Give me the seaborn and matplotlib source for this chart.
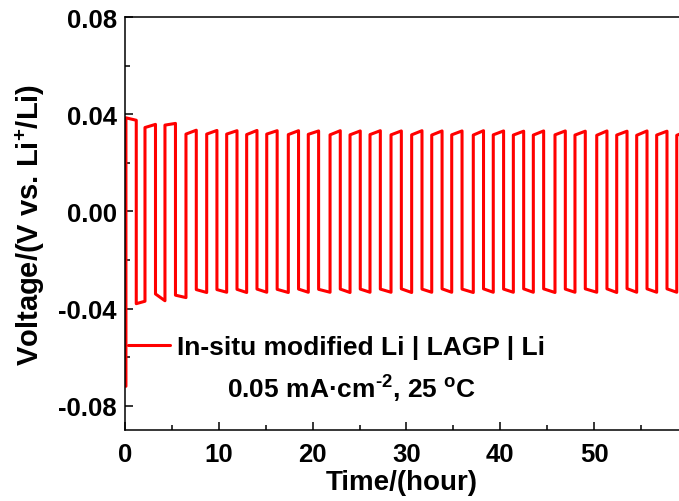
import matplotlib
matplotlib.use('Agg')
import matplotlib.pyplot as plt
import seaborn as sns
import pandas as pd

# switching times (hour)
rise_t = [0.1, 2.13, 4.26, 6.50, 8.71, 10.84, 12.97, 15.11, 17.41, 19.54,
          21.86, 23.99, 26.12, 28.36, 30.56, 32.70, 34.83, 37.13, 39.26, 41.40,
          43.53, 45.84, 47.97, 50.29, 52.42, 54.55, 56.68, 58.82]
fall_t = [1.20, 3.25, 5.38, 7.60, 9.80, 11.94, 14.07, 16.22, 18.50, 20.64,
          22.95, 25.08, 27.22, 29.46, 31.66, 33.80, 35.93, 38.22, 40.36, 42.50,
          44.63, 46.94, 49.07, 51.38, 53.52, 55.65, 57.78, 59.90]

# plateau voltages (V), start and end of every half cycle
high_start = [0.0385, 0.0345, 0.0355, 0.0318, 0.0318, 0.0318, 0.0316, 0.0318, 0.0316, 0.0317,
              0.0315, 0.0315, 0.0316, 0.0315, 0.0315, 0.0314, 0.0315, 0.0314, 0.0315, 0.0314,
              0.0314, 0.0315, 0.0314, 0.0313, 0.0314, 0.0313, 0.0314, 0.0313]
high_end = [0.0375, 0.0358, 0.0362, 0.0334, 0.0333, 0.0332, 0.0333, 0.0332, 0.0332, 0.0331,
            0.0332, 0.0331, 0.0332, 0.0331, 0.0332, 0.0331, 0.0331, 0.0332, 0.0331, 0.0330,
            0.0331, 0.0331, 0.0330, 0.0331, 0.0330, 0.0331, 0.0330, 0.0330]
low_start = [-0.0380, -0.0340, -0.0345, -0.0322, -0.0322, -0.0321, -0.0320, -0.0321, -0.0320,
             -0.0321, -0.0320, -0.0320, -0.0320, -0.0319, -0.0320, -0.0319, -0.0320, -0.0319,
             -0.0320, -0.0319, -0.0319, -0.0320, -0.0319, -0.0319, -0.0318, -0.0319, -0.0319]
low_end = [-0.0370, -0.0368, -0.0355, -0.0334, -0.0333, -0.0334, -0.0333, -0.0334, -0.0333,
           -0.0333, -0.0334, -0.0333, -0.0333, -0.0334, -0.0333, -0.0333, -0.0334, -0.0333,
           -0.0333, -0.0333, -0.0334, -0.0333, -0.0333, -0.0334, -0.0333, -0.0333, -0.0333]
v_init = -0.072

# build the step curve
t, v = [rise_t[0]], [v_init]
for i in range(len(rise_t)):
    t += [rise_t[i], fall_t[i]]
    v += [high_start[i], high_end[i]]
    if i < len(low_start):
        t += [fall_t[i], rise_t[i + 1]]
        v += [low_start[i], low_end[i]]
df = pd.DataFrame({'time': t, 'voltage': v})

sns.set_theme(style='ticks')
plt.rcParams['font.family'] = ['Liberation Sans', 'DejaVu Sans']
plt.rcParams['font.weight'] = 'bold'
plt.rcParams['axes.labelweight'] = 'bold'
plt.rcParams['text.color'] = 'black'
plt.rcParams['axes.labelcolor'] = 'black'
plt.rcParams['xtick.color'] = 'black'
plt.rcParams['ytick.color'] = 'black'
plt.rcParams['mathtext.fontset'] = 'custom'
plt.rcParams['mathtext.rm'] = 'Liberation Sans:bold'
plt.rcParams['mathtext.bf'] = 'Liberation Sans:bold'
plt.rcParams['mathtext.it'] = 'Liberation Sans:bold'

fig = plt.figure(figsize=(6.79, 5.02), dpi=100)
ax = fig.add_axes([125 / 679, 71 / 502, 554 / 679, 413 / 502])

sns.lineplot(data=df, x='time', y='voltage', sort=False, estimator=None,
             color='#ff0000', linewidth=2.2, ax=ax,
             label='In-situ modified Li | LAGP | Li')

ax.set_xlim(0, 59.06)
ax.set_ylim(-0.09, 0.08)
ax.set_xticks([0, 10, 20, 30, 40, 50])
ax.set_xticks([5, 15, 25, 35, 45, 55], minor=True)
ax.set_yticks([-0.08, -0.04, 0.0, 0.04, 0.08])
ax.set_yticks([-0.06, -0.02, 0.02, 0.06], minor=True)
ax.set_yticklabels(['-0.08', '-0.04', '0.00', '0.04', '0.08'])

ax.tick_params(which='both', direction='in', color='black', width=1.1)
ax.tick_params(which='major', length=6, labelsize=18.5, pad=6)
ax.tick_params(which='minor', length=3.5)
ax.tick_params(axis='x', which='major', pad=9)
ax.spines['right'].set_visible(False)
for s in ['left', 'bottom', 'top']:
    ax.spines[s].set_linewidth(1.1)
    ax.spines[s].set_color('black')

ax.set_xlabel('Time/(hour)', fontsize=20, labelpad=2)
ax.set_ylabel('Voltage/(V vs. Li$^{+}$/Li)', fontsize=21, labelpad=8)

leg = ax.legend(loc='center left', bbox_to_anchor=(128 / 679, 1 - 348 / 502),
                bbox_transform=fig.transFigure, frameon=False, fontsize=19,
                handlelength=1.6, handletextpad=0.25, borderpad=0, borderaxespad=0)
for h in leg.get_lines():
    h.set_linewidth(2.2)

fig.text(352 / 679, 1 - 389 / 502, '0.05 mA\u00b7cm$^{\\text{-2}}$, 25 $^{o}$C',
         ha='center', va='center', fontsize=19, fontweight='bold')

fig.savefig('out.png', dpi=100)
